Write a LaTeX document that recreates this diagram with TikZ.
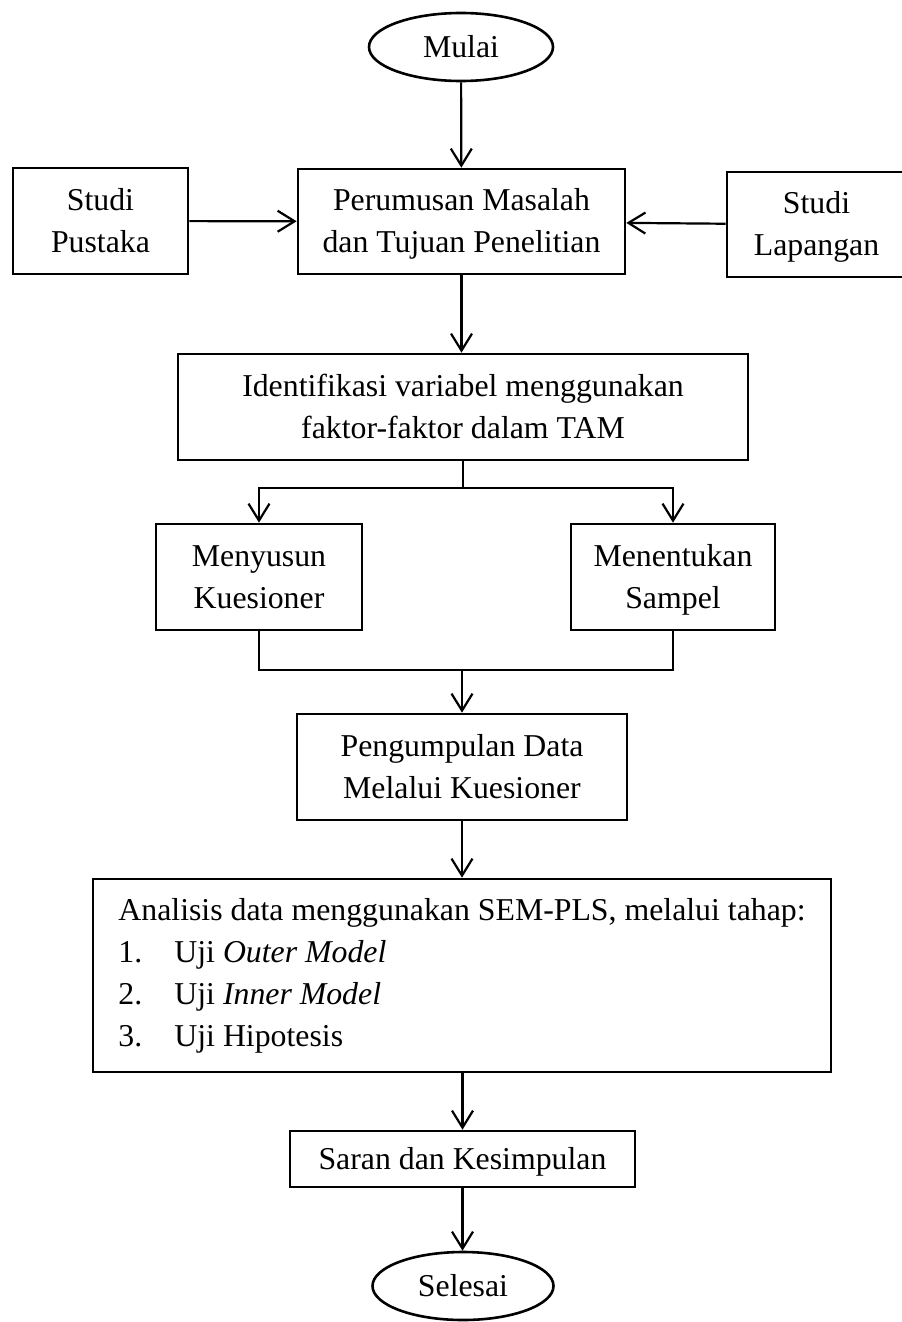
\documentclass[tikz,border=0pt]{standalone}
\usepackage{fontspec}
\setmainfont{Liberation Serif}
\usetikzlibrary{arrows.meta,shapes.geometric}
\newcommand{\ls}{\rule[-5.3pt]{0pt}{21pt}}
\begin{document}
\begin{tikzpicture}[x=0.5pt,y=-0.5pt,
  every node/.style={font=\fontsize{15.9}{21}\selectfont, align=center, inner sep=0pt},
  box/.style={draw, line width=1.3pt, rectangle},
  term/.style={draw, line width=1.3pt, ellipse},
  conn/.style={line width=1.1pt},
  arr/.style={conn, -{Straight Barb[length=8.5pt,width=10.5pt]}}]
\useasboundingbox (0,0) rectangle (901,1322);
\node[term, minimum width=92pt, minimum height=34pt] (mulai) at (461,47) {\ls Mulai};
\node[box, minimum width=163.5pt, minimum height=52.5pt] (per) at (461.5,221.5) {\ls Perumusan Masalah\\\ls dan Tujuan Penelitian};
\node[box, minimum width=87.5pt, minimum height=53pt] (sp) at (100.5,221) {\ls Studi\\\ls Pustaka};
\node[box, minimum width=89.5pt, minimum height=52.5pt] (sl) at (816.5,224.5) {\ls Studi\\\ls Lapangan};
\node[box, minimum width=285pt, minimum height=53pt] (ident) at (463,407) {\ls Identifikasi variabel menggunakan\\\ls faktor-faktor dalam TAM};
\node[box, minimum width=103pt, minimum height=53pt] (nyusun) at (259,577) {\ls Menyusun\\\ls Kuesioner};
\node[box, minimum width=102pt, minimum height=53pt] (tentu) at (673,577) {\ls Menentukan\\\ls Sampel};
\node[box, minimum width=165pt, minimum height=53pt] (peng) at (462,767) {\ls Pengumpulan Data\\\ls Melalui Kuesioner};
\node[box, minimum width=369pt, minimum height=96.5pt, align=left] (anal) at (462,975.5) {\strut Analisis data menggunakan SEM-PLS, melalui tahap:\\
\strut\makebox[28pt][l]{1.}Uji \textit{Outer Model}\\
\strut\makebox[28pt][l]{2.}Uji \textit{Inner Model}\\
\strut\makebox[28pt][l]{3.}Uji Hipotesis};
\node[box, minimum width=172.5pt, minimum height=28pt] (saran) at (462.5,1159) {\ls Saran dan Kesimpulan};
\node[term, minimum width=90.5pt, minimum height=34pt] (selesai) at (463,1286) {\ls Selesai};
\coordinate (j1) at (463,488);
\coordinate (j2) at (462,670);
\draw[arr] (mulai) -- (per);
\draw[arr] (sp) -- (per);
\draw[arr] (sl) -- (per);
\draw[arr] (per.south) -- (per.south |- ident.north);
\draw[conn] (ident.south -| j1) -- (j1);
\draw[arr] (j1) -| (nyusun.north);
\draw[arr] (j1) -| (tentu.north);
\draw[conn] (nyusun.south) |- (j2);
\draw[conn] (tentu.south) |- (j2);
\draw[arr] (j2) -- (j2 |- peng.north);
\draw[arr] (peng.south) -- (peng.south |- anal.north);
\draw[arr] (anal.south -| saran.north) -- (saran.north);
\draw[arr] (saran.south) -- (saran.south |- selesai.north);
\end{tikzpicture}
\end{document}
